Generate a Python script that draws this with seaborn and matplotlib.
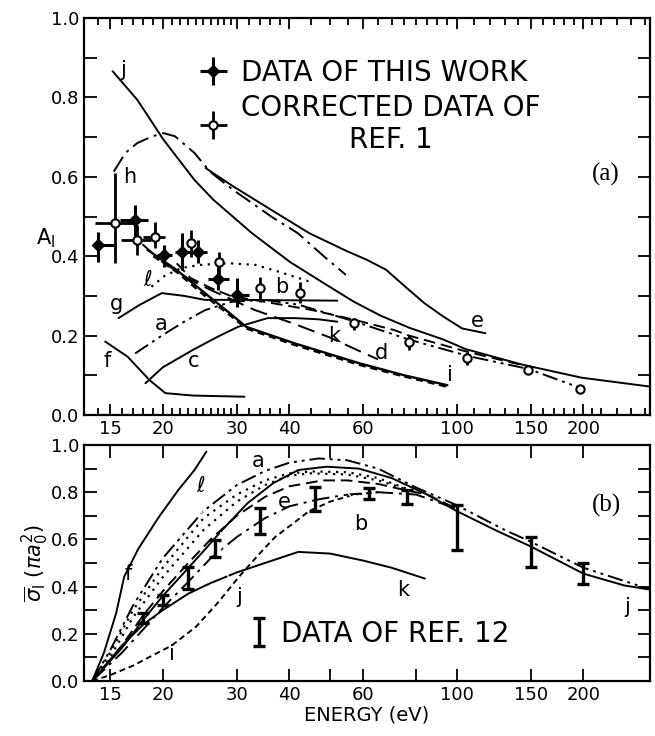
import numpy as np
import pandas as pd
import seaborn as sns
from matplotlib import pyplot as plt
from matplotlib.ticker import FixedLocator, FixedFormatter, NullFormatter

sns.set_style('ticks')
plt.rcParams['font.family'] = ['DejaVu Sans']
plt.rcParams.update({'text.color': 'black', 'axes.labelcolor': 'black',
                     'xtick.color': 'black', 'ytick.color': 'black',
                     'axes.edgecolor': 'black'})

# ---------------- panel (a): A_I ----------------
# data of this work (filled)
fE = [14.05, 17.2, 20.1, 22.2, 24.3, 27.1, 30.1]
fV = [0.428, 0.491, 0.403, 0.411, 0.411, 0.342, 0.302]
fElo = [13.7, 15.8, 19.4, 21.4, 23.1, 25.6, 29.4]
fEhi = [15.5, 18.5, 21.1, 23.3, 25.5, 28.7, 32.1]
fVlo = [0.386, 0.449, 0.374, 0.365, 0.382, 0.315, 0.273]
fVhi = [0.462, 0.529, 0.428, 0.458, 0.441, 0.374, 0.344]

# corrected data of ref. 1 (open)
oE = [15.4, 17.4, 19.2, 23.3, 27.2, 34.1, 42.4, 57, 77, 106, 148, 196]
oV = [0.483, 0.441, 0.449, 0.432, 0.386, 0.319, 0.308, 0.231, 0.185, 0.143, 0.113, 0.065]
oElo = [13.8, 15.9, 18.0, 23.3, 27.2, 34.1, 42.4, 57, 77, 106, 148, 196]
oEhi = [17.4, 18.8, 20.3, 23.3, 27.2, 34.1, 42.4, 57, 77, 106, 148, 196]
oVlo = [0.383, 0.403, 0.42, 0.399, 0.348, 0.285, 0.281, 0.214, 0.164, 0.126, 0.103, 0.06]
oVhi = [0.61, 0.479, 0.487, 0.466, 0.411, 0.348, 0.336, 0.244, 0.2015, 0.159, 0.123, 0.07]

# theory curves, panel a
aj_E = [15.2, 17.4, 20.1, 23.8, 26.4, 32.6, 40.2, 49.5, 57, 66, 77, 93, 105, 143, 198, 286]
aj_V = [0.866, 0.794, 0.693, 0.592, 0.542, 0.458, 0.385, 0.325, 0.285, 0.25, 0.22, 0.19, 0.166, 0.127, 0.094, 0.072]
ae_E = [25.3, 29.4, 36.2, 44.6, 55, 61.1, 67.9, 75.3, 83.7, 92.9, 103, 117]
ae_V = [0.622, 0.576, 0.517, 0.458, 0.412, 0.391, 0.366, 0.324, 0.282, 0.248, 0.218, 0.206]
ah_E = [15.3, 16.3, 17.4, 18.9, 20.1, 21.4, 23.8, 25.9, 29.4, 32.6, 36.2, 41.9, 48.4, 54.5]
ah_V = [0.613, 0.66, 0.685, 0.702, 0.71, 0.702, 0.66, 0.613, 0.567, 0.534, 0.5, 0.458, 0.399, 0.353]
ag_E = [15.7, 17.6, 19.9, 22.5, 25.2, 30.2, 40, 52]
ag_V = [0.244, 0.277, 0.307, 0.30, 0.29, 0.29, 0.289, 0.288]
aa_E = [17.2, 19.9, 22.5, 25.2, 29.1, 35, 42, 57, 77, 107, 148, 197]
aa_V = [0.155, 0.2, 0.235, 0.264, 0.285, 0.29, 0.278, 0.236, 0.19, 0.148, 0.116, 0.068]
ac_E = [18.2, 20, 23.6, 27, 30.2, 35.5, 41.3, 47, 52]
ac_V = [0.08, 0.12, 0.164, 0.197, 0.222, 0.244, 0.244, 0.241, 0.235]
af_E = [14.6, 16.5, 18.6, 20.3, 23.6, 31.3]
af_V = [0.185, 0.147, 0.088, 0.055, 0.049, 0.046]
al_E = [18.8, 20.2, 22.1, 24.5, 27, 29, 33.3, 38, 45]
al_V = [0.323, 0.35, 0.37, 0.378, 0.381, 0.382, 0.378, 0.36, 0.335]
ad_E = [17.9, 20, 23.3, 26, 28.6, 33, 41, 50, 59, 65]
ad_V = [0.43, 0.385, 0.34, 0.315, 0.295, 0.265, 0.23, 0.195, 0.16, 0.14]
ab_E = [21.6, 23.3, 26, 29, 35, 45, 57, 71, 77, 107, 148]
ab_V = [0.382, 0.345, 0.32, 0.30, 0.285, 0.265, 0.24, 0.214, 0.2, 0.158, 0.122]
ak_E = [18.4, 21.6, 25.2, 28.6, 31.6, 41.3, 58.8, 75, 95]
ak_V = [0.416, 0.365, 0.307, 0.26, 0.222, 0.18, 0.13, 0.1, 0.075]
ai_E = [19.0, 21.6, 25.2, 28.6, 31.6, 41.3, 58.8, 75, 95]
ai_V = [0.40, 0.36, 0.30, 0.255, 0.218, 0.176, 0.126, 0.097, 0.071]

# ---------------- panel (b): sigma_I ----------------
rE = [18, 20, 23, 26.7, 34, 46, 62, 76, 100, 150, 200]
rV = [0.267, 0.342, 0.435, 0.56, 0.678, 0.77, 0.795, 0.78, 0.65, 0.547, 0.455]
rErr = [0.022, 0.022, 0.046, 0.036, 0.056, 0.05, 0.022, 0.028, 0.095, 0.064, 0.045]

bf_E = [13.6, 14.5, 15.5, 16.2, 17.5, 19.6, 21.8, 23.8, 25.4]
bf_V = [0.0, 0.12, 0.287, 0.442, 0.56, 0.696, 0.81, 0.894, 0.972]
ba_E = [13.6, 15, 17, 20, 25, 30, 35, 40, 47, 55, 65, 80, 100, 130, 150, 200, 286]
ba_V = [0.0, 0.13, 0.32, 0.52, 0.72, 0.83, 0.89, 0.925, 0.943, 0.935, 0.9, 0.82, 0.745, 0.64, 0.59, 0.48, 0.39]
bl_E = [13.6, 15, 17, 20, 25, 30, 35, 40, 45, 55, 65, 80]
bl_V = [0.0, 0.12, 0.3, 0.48, 0.69, 0.79, 0.85, 0.88, 0.888, 0.885, 0.86, 0.8]
bl2_E = [13.6, 15, 17, 20, 25, 30, 35, 40, 45, 55, 65, 80]
bl2_V = [0.0, 0.1, 0.27, 0.44, 0.64, 0.76, 0.83, 0.87, 0.88, 0.875, 0.85, 0.8]
bj_E = [13.6, 16, 18, 20, 22.5, 25, 27.7, 31.8, 36.6, 42, 49, 58.5, 70, 85, 100, 125, 150, 200, 250, 286]
bj_V = [0.0, 0.14, 0.26, 0.36, 0.46, 0.55, 0.64, 0.753, 0.838, 0.894, 0.908, 0.9, 0.86, 0.79, 0.72, 0.635, 0.57, 0.455, 0.405, 0.388]
bb_E = [13.6, 16, 18, 20, 23, 26, 30, 35, 40, 48, 55, 65, 75, 85, 100]
bb_V = [0.0, 0.15, 0.28, 0.38, 0.5, 0.6, 0.7, 0.78, 0.825, 0.85, 0.85, 0.835, 0.81, 0.79, 0.73]
be_E = [13.6, 16, 18, 20, 23, 26, 30, 35, 40, 47, 55, 65, 80, 100]
be_V = [0.0, 0.12, 0.22, 0.31, 0.42, 0.52, 0.61, 0.69, 0.74, 0.77, 0.79, 0.8, 0.79, 0.73]
bi_E = [13.6, 15, 17, 19, 21, 24, 27, 30.3, 34, 37, 41, 44.6, 50, 57, 65]
bi_V = [0.0, 0.025, 0.065, 0.11, 0.15, 0.23, 0.33, 0.44, 0.54, 0.61, 0.67, 0.72, 0.76, 0.79, 0.8]
bk_E = [13.6, 16, 18, 20, 23, 26, 30, 35, 42, 50, 60, 70, 84]
bk_V = [0.0, 0.15, 0.24, 0.3, 0.37, 0.415, 0.46, 0.5, 0.547, 0.54, 0.51, 0.48, 0.434]

majorE = [15, 20, 30, 40, 60, 100, 150, 200]
minorA = [14, 16, 17, 18, 19, 21, 22, 23, 24, 25, 26, 27, 28, 29, 32, 34, 36, 38, 45, 50, 55,
          65, 70, 75, 80, 85, 90, 95, 110, 120, 130, 140, 160, 170, 180, 190, 210, 220, 240, 260, 280]
ticksB = [15, 20, 30, 40, 50, 60, 80, 100, 150, 200]

SOLID = '-'
DOT = (0, (1, 2.5))
DASH = (0, (6, 3))
LDASH = (0, (9, 4))
SDASH = (0, (3, 2))
DASHDOT = (0, (9, 3, 1.5, 3))
DASHDOTDOT = (0, (8, 2.5, 1.5, 2.5, 1.5, 2.5))


def curve(ax, E, V, ls, lw=1.4):
    sns.lineplot(x=E, y=V, ax=ax, color='black', linestyle=ls, linewidth=lw,
                 sort=False, estimator=None, legend=False)


fig = plt.figure(figsize=(6.55, 7.36), dpi=100)
axA = fig.add_axes([84 / 655, 1 - 415 / 736, 566 / 655, 397 / 736])
axB = fig.add_axes([84 / 655, 1 - 681 / 736, 566 / 655, 236 / 736])

# Panel a curves
curve(axA, aj_E, aj_V, SOLID)
curve(axA, ae_E, ae_V, SOLID)
curve(axA, ah_E, ah_V, DASHDOT)
curve(axA, ag_E, ag_V, SOLID)
curve(axA, aa_E, aa_V, DASHDOTDOT)
curve(axA, ac_E, ac_V, SOLID)
curve(axA, af_E, af_V, SOLID)
curve(axA, al_E, al_V, DOT, 1.6)
curve(axA, ad_E, ad_V, LDASH)
curve(axA, ab_E, ab_V, DASH)
curve(axA, ak_E, ak_V, SOLID, 1.7)
curve(axA, ai_E, ai_V, SDASH, 1.7)

# data points
ebF = axA.errorbar(fE, fV,
                   xerr=[np.subtract(fE, fElo), np.subtract(fEhi, fE)],
                   yerr=[np.subtract(fV, fVlo), np.subtract(fVhi, fV)],
                   fmt='D', ms=6, mfc='black', mec='black', ecolor='black',
                   elinewidth=2.2, capsize=0, zorder=5)
ebO = axA.errorbar(oE, oV,
                   xerr=[np.subtract(oE, oElo), np.subtract(oEhi, oE)],
                   yerr=[np.subtract(oV, oVlo), np.subtract(oVhi, oV)],
                   fmt='o', ms=6, mfc='white', mec='black', mew=1.5, ecolor='black',
                   elinewidth=2.0, capsize=0, zorder=6)

leg = axA.legend([ebF, ebO], ['DATA OF THIS WORK', 'CORRECTED DATA OF\nREF. 1'],
                 loc='upper left', bbox_to_anchor=(0.16, 0.96), frameon=False,
                 fontsize=20, handlelength=1.0, handletextpad=0.5, labelspacing=0.25)
for t in leg.get_texts():
    t.set_multialignment('center')
    t.set_color('black')

# curve labels panel a
lab = dict(fontsize=15, color='black')
axA.text(15.9, 0.855, 'j', **lab)
axA.text(16.1, 0.585, 'h', **lab)
axA.text(18.0, 0.325, r'$\ell$', **lab)
axA.text(15.0, 0.265, 'g', **lab)
axA.text(19.1, 0.215, 'a', **lab)
axA.text(14.5, 0.122, 'f', **lab)
axA.text(23.0, 0.122, 'c', **lab)
axA.text(37.0, 0.308, 'b', **lab)
axA.text(49.5, 0.185, 'k', **lab)
axA.text(64.0, 0.14, 'd', **lab)
axA.text(95.0, 0.085, 'i', **lab)
axA.text(108.0, 0.222, 'e', **lab)
axA.text(210, 0.59, '(a)', fontsize=18, family='Liberation Serif')

# Panel b curves
curve(axB, bf_E, bf_V, SOLID)
curve(axB, ba_E, ba_V, DASHDOTDOT)
curve(axB, bl_E, bl_V, DOT, 1.6)
curve(axB, bl2_E, bl2_V, DOT, 1.6)
curve(axB, bj_E, bj_V, SOLID)
curve(axB, bb_E, bb_V, DASH)
curve(axB, be_E, be_V, DASHDOT)
curve(axB, bi_E, bi_V, SDASH)
curve(axB, bk_E, bk_V, SOLID)

ebR = axB.errorbar(rE, rV, yerr=rErr, fmt='none', ecolor='black', elinewidth=2.4,
                   capsize=4, capthick=2.4, zorder=5)
legB = axB.legend([ebR], ['DATA OF REF. 12'], loc='center left',
                  bbox_to_anchor=(0.245, 0.2), frameon=False, fontsize=20,
                  handlelength=0.8, handletextpad=0.4)
for t in legB.get_texts():
    t.set_color('black')

axB.text(32.5, 0.905, 'a', **lab)
axB.text(24.0, 0.80, r'$\ell$', **lab)
axB.annotate('', xy=(25.3, 0.69), xytext=(24.6, 0.8),
             arrowprops=dict(arrowstyle='-', lw=1, connectionstyle='arc3,rad=0.3'))
axB.text(37.5, 0.735, 'e', **lab)
axB.text(57, 0.64, 'b', **lab)
axB.annotate('', xy=(51, 0.85), xytext=(58, 0.72),
             arrowprops=dict(arrowstyle='-', lw=1, connectionstyle='arc3,rad=0.2'))
axB.text(16.2, 0.43, 'f', **lab)
axB.text(30.0, 0.33, 'j', **lab)
axB.annotate('', xy=(27.5, 0.64), xytext=(30.3, 0.37),
             arrowprops=dict(arrowstyle='-', lw=1, linestyle=(0, (6, 2, 1, 2)),
                             connectionstyle='arc3,rad=-0.2'))
axB.text(72, 0.36, 'k', **lab)
axB.text(20.7, 0.09, 'i', **lab)
axB.text(250, 0.29, 'j', **lab)
axB.text(210, 0.72, '(b)', fontsize=18, family='Liberation Serif')

# axes styling
for ax in (axA, axB):
    ax.set_xscale('log')
    ax.set_xlim(13, 288)
    ax.set_ylim(0, 1.0)
    ax.set_xlabel('')
    ax.set_ylabel('')
    for s in ax.spines.values():
        s.set_linewidth(1.6)
        s.set_color('black')
        s.set_visible(True)
    ax.yaxis.set_major_locator(FixedLocator([0.0, 0.2, 0.4, 0.6, 0.8, 1.0]))
    ax.yaxis.set_minor_locator(FixedLocator([0.1, 0.3, 0.5, 0.7, 0.9]))
    ax.yaxis.set_major_formatter(FixedFormatter(['0.0', '0.2', '0.4', '0.6', '0.8', '1.0']))
    ax.tick_params(which='both', direction='in', top=True, right=True, width=1.3,
                   labelsize=13, colors='black')
    ax.tick_params(axis='y', which='major', length=9)
    ax.tick_params(axis='y', which='minor', length=9)

axA.xaxis.set_major_locator(FixedLocator(majorE))
axA.xaxis.set_major_formatter(FixedFormatter([str(e) for e in majorE]))
axA.xaxis.set_minor_locator(FixedLocator(minorA))
axA.xaxis.set_minor_formatter(NullFormatter())
axA.tick_params(axis='x', which='major', length=8)
axA.tick_params(axis='x', which='minor', length=5)

axB.xaxis.set_major_locator(FixedLocator(ticksB))
axB.xaxis.set_major_formatter(FixedFormatter([str(e) if e in majorE else '' for e in ticksB]))
axB.xaxis.set_minor_locator(FixedLocator([]))
axB.tick_params(axis='x', which='major', length=9)

axA.text(-0.085, 0.43, r'A$_\mathrm{I}$', transform=axA.transAxes, fontsize=15)
axB.set_ylabel(r'$\overline{\sigma}_\mathrm{I}$ $(\pi a_0^2)$', fontsize=15, labelpad=0)
axB.set_xlabel('ENERGY (eV)', fontsize=14, labelpad=1)

fig.savefig('out.png', dpi=100)
